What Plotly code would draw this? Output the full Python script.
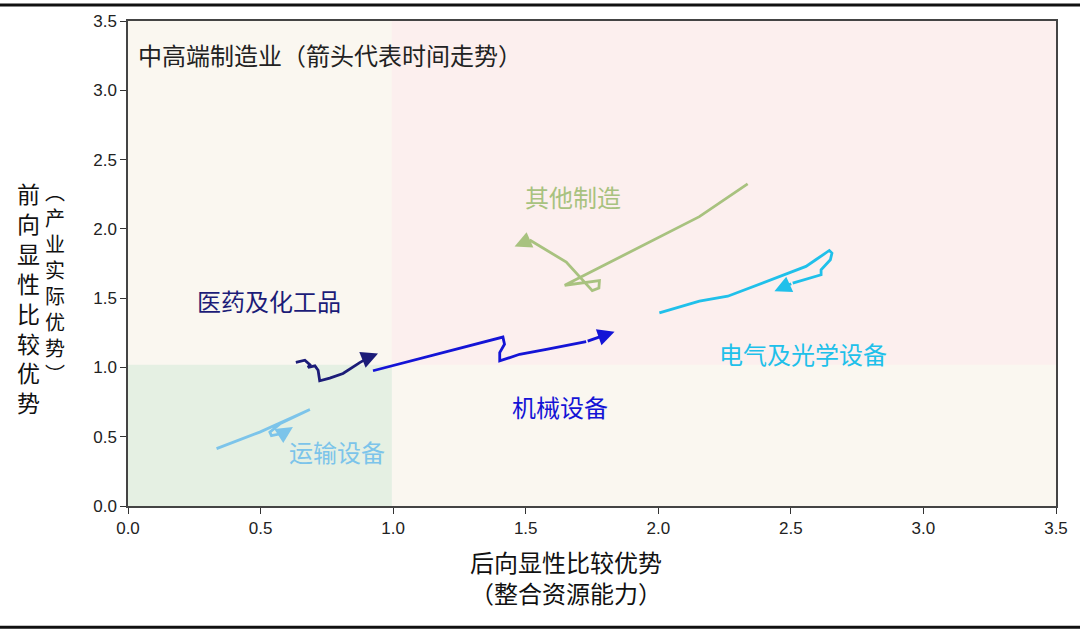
import plotly.graph_objects as go

# ---- data ----
pharma_x = [0.633, 0.667, 0.686, 0.679, 0.705, 0.717, 0.723, 0.761, 0.811, 0.874, 0.912, 0.943]
pharma_y = [1.037, 1.052, 1.019, 1.000, 1.011, 0.980, 0.904, 0.923, 0.956, 1.035, 1.076, 1.100]

machine_x = [0.924, 1.414, 1.420, 1.402, 1.402, 1.477, 1.578, 1.728, 1.835]
machine_y = [0.976, 1.219, 1.167, 1.107, 1.047, 1.095, 1.131, 1.186, 1.258]

other_x = [2.337, 2.155, 1.647, 1.778, 1.776, 1.751, 1.653, 1.515, 1.458]
other_y = [2.325, 2.088, 1.593, 1.626, 1.573, 1.554, 1.760, 1.920, 1.872]

elec_x = [2.004, 2.155, 2.262, 2.344, 2.557, 2.594, 2.645, 2.655, 2.649, 2.614, 2.614, 2.507, 2.438]
elec_y = [1.394, 1.478, 1.514, 1.573, 1.729, 1.777, 1.844, 1.825, 1.777, 1.705, 1.669, 1.609, 1.549]

trans_x = [0.334, 0.397, 0.497, 0.686, 0.573, 0.535, 0.541, 0.585, 0.622]
trans_y = [0.414, 0.461, 0.533, 0.696, 0.593, 0.533, 0.508, 0.525, 0.570]

series = [
    ("医药及化工品", pharma_x, pharma_y, "#1c1c78", 0.53, 1.48),
    ("机械设备", machine_x, machine_y, "#1414d6", 1.63, 0.72),
    ("其他制造", other_x, other_y, "#a8c27f", 1.68, 2.23),
    ("电气及光学设备", elec_x, elec_y, "#20c0ea", 2.545, 1.1),
    ("运输设备", trans_x, trans_y, "#7cc4ea", 0.79, 0.39),
]

x_ticks = [0.0, 0.5, 1.0, 1.5, 2.0, 2.5, 3.0, 3.5]
y_ticks = [0.0, 0.5, 1.0, 1.5, 2.0, 2.5, 3.0, 3.5]

CJK = "Noto Sans CJK SC"

fig = go.Figure()

annotations = []
for name, xs, ys, col, lx, ly in series:
    fig.add_trace(go.Scatter(x=xs[:-1], y=ys[:-1], mode="lines",
                             line=dict(color=col, width=2.8), showlegend=False,
                             hoverinfo="skip"))
    annotations.append(dict(x=xs[-1], y=ys[-1], ax=xs[-2], ay=ys[-2],
                            xref="x", yref="y", axref="x", ayref="y",
                            text="", showarrow=True, arrowhead=2, arrowsize=1.2,
                            arrowwidth=2.8, arrowcolor=col, standoff=0))
    annotations.append(dict(x=lx, y=ly, xref="x", yref="y", text=name, showarrow=False,
                            xanchor="center", yanchor="middle",
                            font=dict(family=CJK, size=24, color=col)))

annotations.append(dict(x=0.03, y=3.26, xref="x", yref="y", xanchor="left", yanchor="middle",
                        text="中高端制造业（箭头代表时间走势）", showarrow=False,
                        font=dict(family=CJK, size=24, color="#222222")))

# x-axis title (two lines)
annotations.append(dict(x=(566 - 128) / 929, y=(506 - 577) / 488, xref="paper", yref="paper",
                        xanchor="center", yanchor="middle",
                        text="后向显性比较优势<br>（整合资源能力）", showarrow=False,
                        font=dict(family=CJK, size=24, color="#111111")))
# y-axis title (two vertical columns)
annotations.append(dict(x=(28 - 128) / 929, y=(506 - 296) / 488, xref="paper", yref="paper",
                        xanchor="center", yanchor="middle",
                        text="<br>".join("前向显性比较优势"), showarrow=False,
                        font=dict(family=CJK, size=23, color="#111111")))
annotations.append(dict(x=(55 - 128) / 929, y=(506 - 281) / 488, xref="paper", yref="paper",
                        xanchor="center", yanchor="middle",
                        text="<br>".join("︵产业实际优势︶"), showarrow=False,
                        font=dict(family=CJK, size=20, color="#111111")))

shapes = [
    dict(type="rect", xref="x", yref="y", x0=0, x1=0.995, y0=0, y1=1.02,
         fillcolor="#e5f0e3", line=dict(width=0), layer="below"),
    dict(type="rect", xref="x", yref="y", x0=0.995, x1=3.5, y0=1.02, y1=3.5,
         fillcolor="#fcefee", line=dict(width=0), layer="below"),
    dict(type="line", xref="paper", yref="paper", x0=-0.2, x1=1.1,
         y0=(506 - 2) / 488, y1=(506 - 2) / 488, line=dict(color="#111111", width=3)),
    dict(type="line", xref="paper", yref="paper", x0=-0.2, x1=1.1,
         y0=(506 - 628) / 488, y1=(506 - 628) / 488, line=dict(color="#111111", width=3)),
]

axis_common = dict(showgrid=False, zeroline=False, showline=True, linecolor="#444444",
                   linewidth=1.5, mirror=True, ticks="outside", ticklen=6, tickwidth=1.2,
                   tickcolor="#333333", tickformat=".1f",
                   tickfont=dict(family="Liberation Sans, Arial", size=17, color="#222222"))

fig.update_layout(
    width=1080, height=633,
    margin=dict(l=128, r=23, t=18, b=127),
    paper_bgcolor="white", plot_bgcolor="#faf7f0",
    xaxis=dict(range=[0, 3.5], tickvals=x_ticks, **axis_common),
    yaxis=dict(range=[0, 3.5], tickvals=y_ticks, **axis_common),
    annotations=annotations, shapes=shapes,
)

fig.write_html("out.html")
